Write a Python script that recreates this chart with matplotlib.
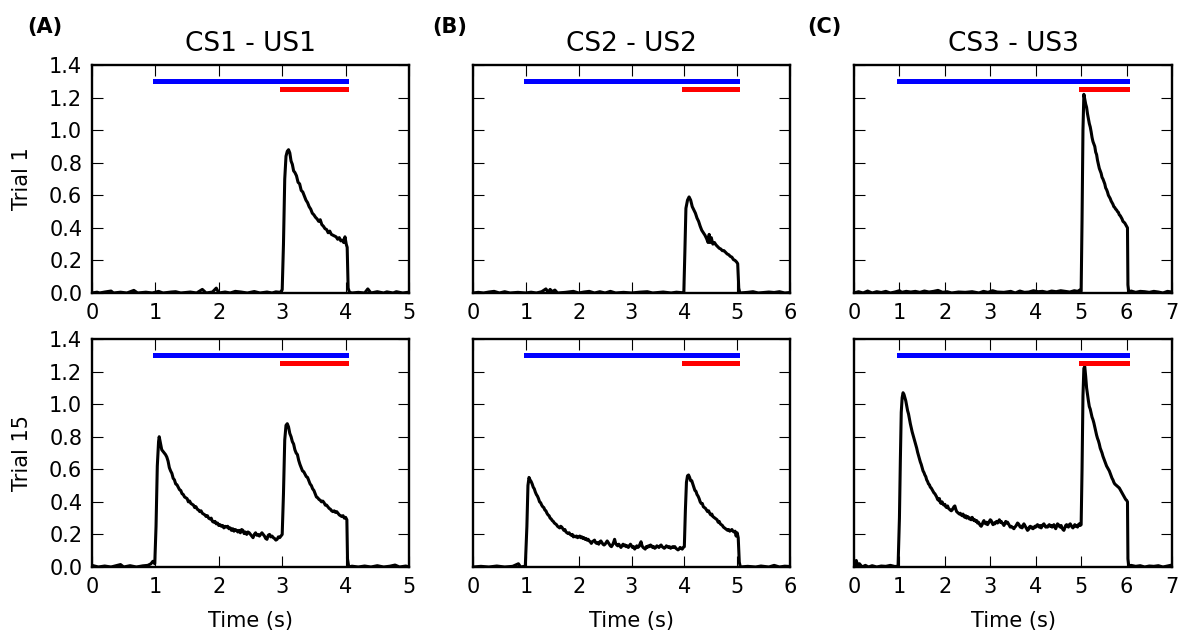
import numpy as np
import matplotlib
matplotlib.use("Agg")
import matplotlib.pyplot as plt

plt.rcParams['font.family'] = ['DejaVu Sans']

# ---------------- data ----------------
titles = ["CS1 - US1", "CS2 - US2", "CS3 - US3"]
panel_labels = ["(A)", "(B)", "(C)"]
row_labels = ["Trial 1", "Trial 15"]
x_max = [5, 6, 7]
cs_on = [1, 1, 1]
cs_off = [4, 5, 6]
us_on = [3, 4, 5]
us_off = [4, 5, 6]
cs_level = 1.30
us_level = 1.25
y_ticks = [0.0, 0.2, 0.4, 0.6, 0.8, 1.0, 1.2, 1.4]

a1 = [(0.00,0.0),(0.08,0.005),(0.12,0.0),(0.2,0.006),(0.3,0.012),(0.34,0.0),(0.45,0.005),(0.55,0.0),
      (0.66,0.016),(0.72,0.0),(0.85,0.005),(0.95,0.0),(1.05,0.01),(1.12,0.0),(1.25,0.006),(1.32,0.008),
      (1.4,0.0),(1.55,0.006),(1.65,0.0),(1.74,0.022),(1.8,0.0),(1.9,0.006),(1.96,0.03),(2.0,0.0),
      (2.1,0.006),(2.18,0.0),(2.26,0.01),(2.35,0.006),(2.45,0.0),(2.56,0.009),(2.65,0.0),(2.76,0.006),
      (2.84,0.0),(2.9,0.007),(2.97,0.004),
      (3.00,0.02),(3.02,0.30),(3.04,0.70),(3.06,0.84),(3.08,0.87),(3.10,0.88),(3.12,0.86),(3.14,0.81),
      (3.16,0.79),(3.18,0.75),(3.20,0.74),(3.225,0.72),(3.25,0.68),(3.275,0.67),(3.30,0.63),(3.325,0.62),
      (3.35,0.595),(3.375,0.57),(3.40,0.555),(3.425,0.53),(3.45,0.515),(3.475,0.49),(3.50,0.48),
      (3.525,0.465),(3.55,0.455),(3.575,0.44),(3.60,0.45),(3.625,0.42),(3.65,0.41),(3.675,0.395),
      (3.70,0.39),(3.725,0.37),(3.75,0.38),(3.775,0.36),(3.80,0.355),(3.825,0.35),(3.85,0.345),
      (3.875,0.33),(3.90,0.34),(3.925,0.32),(3.95,0.325),(3.97,0.31),(3.99,0.345),(4.01,0.30),
      (4.025,0.28),(4.04,0.03),(4.06,0.005),
      (4.1,0.0),(4.2,0.004),(4.3,0.0),(4.35,0.025),(4.4,0.0),(4.5,0.008),(4.6,0.0),(4.65,0.007),
      (4.75,0.0),(4.8,0.008),(4.9,0.0),(5.0,0.005)]

a2 = [(0.0,0.01),(0.05,0.005),(0.1,0.0),(0.2,0.006),(0.3,0.0),(0.45,0.015),(0.5,0.0),(0.6,0.008),
      (0.7,0.0),(0.8,0.007),(0.88,0.01),(0.93,0.02),(0.96,0.035),(0.99,0.02),
      (1.01,0.25),(1.03,0.62),(1.05,0.77),(1.06,0.80),(1.08,0.76),(1.10,0.72),(1.12,0.71),(1.14,0.70),
      (1.16,0.69),(1.18,0.675),(1.20,0.65),(1.22,0.61),(1.24,0.59),(1.26,0.575),(1.28,0.545),(1.30,0.535),
      (1.32,0.51),(1.34,0.505),(1.36,0.49),(1.38,0.475),(1.40,0.47),(1.42,0.45),(1.44,0.445),(1.46,0.43),
      (1.48,0.425),(1.50,0.42),(1.52,0.40),(1.54,0.405),(1.56,0.39),(1.58,0.385),(1.60,0.38),(1.62,0.365),
      (1.64,0.37),(1.66,0.355),(1.68,0.35),(1.70,0.34),(1.72,0.345),(1.74,0.33),(1.76,0.325),(1.78,0.32),
      (1.80,0.31),(1.82,0.315),(1.84,0.30),(1.86,0.295),(1.88,0.30),(1.90,0.28),(1.92,0.275),(1.94,0.28),
      (1.96,0.265),(1.98,0.27),(2.00,0.255),(2.02,0.26),(2.04,0.25),(2.06,0.255),(2.08,0.24),(2.10,0.25),
      (2.12,0.245),(2.14,0.25),(2.16,0.235),(2.18,0.24),(2.20,0.225),(2.22,0.235),(2.24,0.22),(2.26,0.23),
      (2.28,0.225),(2.30,0.215),(2.32,0.225),(2.34,0.21),(2.36,0.23),(2.38,0.225),(2.40,0.205),(2.42,0.215),
      (2.44,0.20),(2.46,0.215),(2.48,0.21),(2.50,0.20),(2.52,0.19),(2.54,0.18),(2.56,0.20),(2.58,0.21),
      (2.60,0.195),(2.62,0.20),(2.64,0.19),(2.66,0.20),(2.68,0.21),(2.70,0.20),(2.72,0.19),(2.74,0.175),
      (2.76,0.17),(2.78,0.195),(2.80,0.20),(2.82,0.185),(2.84,0.19),(2.86,0.18),(2.88,0.175),(2.90,0.165),
      (2.92,0.17),(2.94,0.185),(2.96,0.18),(2.98,0.19),(3.00,0.20),
      (3.02,0.45),(3.04,0.78),(3.06,0.87),(3.08,0.88),(3.10,0.86),(3.12,0.82),(3.14,0.80),(3.16,0.77),
      (3.18,0.755),(3.20,0.72),(3.22,0.70),(3.24,0.69),(3.26,0.655),(3.28,0.63),(3.30,0.61),(3.32,0.59),
      (3.34,0.585),(3.36,0.57),(3.38,0.555),(3.40,0.55),(3.42,0.53),(3.44,0.51),(3.46,0.50),(3.48,0.48),
      (3.50,0.47),(3.52,0.45),(3.54,0.43),(3.56,0.425),(3.58,0.415),(3.60,0.41),(3.62,0.40),(3.64,0.405),
      (3.66,0.395),(3.68,0.38),(3.70,0.38),(3.72,0.37),(3.74,0.36),(3.76,0.355),(3.78,0.345),(3.80,0.34),
      (3.82,0.345),(3.84,0.335),(3.86,0.34),(3.88,0.33),(3.90,0.32),(3.92,0.315),(3.94,0.31),(3.96,0.315),
      (3.98,0.30),(4.00,0.305),(4.02,0.29),(4.03,0.05),(4.05,0.0),
      (4.1,0.005),(4.2,0.0),(4.3,0.006),(4.4,0.0),(4.5,0.008),(4.6,0.0),(4.7,0.005),(4.78,0.012),
      (4.85,0.0),(4.95,0.006),(5.0,0.0)]

b1 = [(0.0,0.0),(0.1,0.004),(0.2,0.0),(0.3,0.006),(0.4,0.01),(0.5,0.0),(0.6,0.008),(0.7,0.0),
      (0.85,0.004),(1.0,0.0),(1.1,0.005),(1.2,0.0),(1.3,0.008),(1.38,0.025),(1.42,0.005),(1.46,0.022),
      (1.5,0.008),(1.55,0.018),(1.6,0.0),(1.75,0.004),(1.9,0.01),(2.0,0.0),(2.1,0.006),(2.2,0.01),
      (2.3,0.0),(2.4,0.008),(2.5,0.0),(2.6,0.01),(2.7,0.0),(2.85,0.004),(3.0,0.0),(3.15,0.005),
      (3.3,0.008),(3.4,0.0),(3.6,0.006),(3.75,0.0),(3.85,0.005),(3.95,0.002),(3.99,0.0),
      (4.01,0.25),(4.03,0.52),(4.06,0.57),(4.09,0.59),(4.12,0.57),(4.15,0.53),(4.18,0.51),(4.21,0.49),
      (4.24,0.46),(4.27,0.44),(4.30,0.41),(4.33,0.385),(4.36,0.37),(4.39,0.355),(4.42,0.335),(4.45,0.31),
      (4.47,0.36),(4.49,0.31),(4.51,0.34),(4.54,0.30),(4.57,0.31),(4.60,0.295),(4.63,0.285),(4.66,0.275),
      (4.69,0.27),(4.72,0.26),(4.75,0.26),(4.78,0.25),(4.81,0.24),(4.84,0.235),(4.87,0.225),(4.90,0.22),
      (4.93,0.205),(4.96,0.20),(4.99,0.19),(5.01,0.18),(5.03,0.03),(5.05,0.0),
      (5.2,0.004),(5.3,0.008),(5.4,0.0),(5.6,0.006),(5.7,0.003),(5.8,0.008),(5.9,0.0),(6.0,0.003)]

b2 = [(0.0,0.0),(0.15,0.004),(0.3,0.0),(0.45,0.006),(0.6,0.0),(0.75,0.004),(0.86,0.02),(0.9,0.0),
      (0.99,0.005),
      (1.02,0.25),(1.04,0.50),(1.06,0.55),(1.08,0.535),(1.10,0.525),(1.12,0.51),(1.14,0.49),(1.16,0.48),
      (1.18,0.46),(1.20,0.445),(1.22,0.435),(1.24,0.42),(1.26,0.40),(1.28,0.395),(1.30,0.38),(1.32,0.37),
      (1.34,0.365),(1.36,0.35),(1.38,0.345),(1.40,0.33),(1.42,0.32),(1.44,0.315),(1.46,0.30),(1.48,0.295),
      (1.50,0.285),(1.52,0.28),(1.54,0.27),(1.56,0.265),(1.58,0.26),(1.60,0.25),(1.62,0.245),(1.64,0.24),
      (1.66,0.25),(1.68,0.245),(1.70,0.235),(1.72,0.225),(1.74,0.23),(1.76,0.215),(1.78,0.21),(1.80,0.205),
      (1.82,0.21),(1.84,0.20),(1.86,0.195),(1.88,0.20),(1.90,0.185),(1.92,0.19),(1.94,0.185),(1.96,0.19),
      (1.98,0.18),(2.00,0.185),(2.02,0.19),(2.04,0.18),(2.06,0.185),(2.08,0.175),(2.10,0.18),(2.12,0.17),
      (2.14,0.175),(2.16,0.165),(2.18,0.17),(2.20,0.16),(2.22,0.155),(2.24,0.145),(2.26,0.155),(2.28,0.16),
      (2.30,0.165),(2.32,0.15),(2.34,0.145),(2.36,0.15),(2.38,0.14),(2.40,0.155),(2.42,0.16),(2.44,0.15),
      (2.46,0.14),(2.48,0.135),(2.50,0.14),(2.52,0.15),(2.54,0.16),(2.56,0.15),(2.58,0.14),(2.60,0.13),
      (2.62,0.125),(2.64,0.135),(2.66,0.15),(2.68,0.17),(2.70,0.145),(2.72,0.135),(2.74,0.13),(2.76,0.14),
      (2.78,0.13),(2.80,0.12),(2.82,0.13),(2.84,0.14),(2.86,0.13),(2.88,0.135),(2.90,0.125),(2.92,0.13),
      (2.94,0.12),(2.96,0.13),(2.98,0.14),(3.00,0.13),(3.02,0.12),(3.04,0.125),(3.06,0.11),(3.08,0.12),
      (3.10,0.13),(3.12,0.12),(3.14,0.125),(3.16,0.14),(3.18,0.155),(3.20,0.13),(3.22,0.12),(3.24,0.115),
      (3.26,0.11),(3.28,0.125),(3.30,0.12),(3.32,0.13),(3.34,0.125),(3.36,0.135),(3.38,0.13),(3.40,0.12),
      (3.42,0.125),(3.44,0.115),(3.46,0.12),(3.48,0.13),(3.50,0.125),(3.52,0.12),(3.54,0.13),(3.56,0.135),
      (3.58,0.125),(3.60,0.12),(3.62,0.115),(3.64,0.12),(3.66,0.13),(3.68,0.125),(3.70,0.12),(3.72,0.125),
      (3.74,0.115),(3.76,0.12),(3.78,0.125),(3.80,0.12),(3.82,0.125),(3.84,0.115),(3.86,0.11),(3.88,0.105),
      (3.90,0.11),(3.92,0.12),(3.94,0.115),(3.96,0.11),(3.98,0.12),(4.00,0.125),
      (4.02,0.35),(4.04,0.52),(4.06,0.56),(4.08,0.565),(4.10,0.55),(4.12,0.53),(4.14,0.53),(4.16,0.51),
      (4.18,0.49),(4.20,0.47),(4.22,0.465),(4.24,0.445),(4.26,0.435),(4.28,0.42),(4.30,0.40),(4.32,0.39),
      (4.34,0.39),(4.36,0.37),(4.38,0.365),(4.40,0.36),(4.42,0.35),(4.44,0.34),(4.46,0.345),(4.48,0.33),
      (4.50,0.32),(4.52,0.325),(4.54,0.31),(4.56,0.305),(4.58,0.30),(4.60,0.295),(4.62,0.29),(4.64,0.275),
      (4.66,0.28),(4.68,0.265),(4.70,0.26),(4.72,0.255),(4.74,0.245),(4.76,0.24),(4.78,0.235),(4.80,0.23),
      (4.82,0.225),(4.84,0.23),(4.86,0.22),(4.88,0.225),(4.90,0.23),(4.92,0.22),(4.94,0.215),(4.96,0.22),
      (4.98,0.19),(5.00,0.21),(5.02,0.18),(5.04,0.03),(5.06,0.0),
      (5.2,0.004),(5.35,0.0),(5.45,0.006),(5.6,0.0),(5.7,0.01),(5.8,0.0),(5.9,0.005),(6.0,0.003)]

c1 = [(0.0,0.0),(0.1,0.008),(0.2,0.0),(0.3,0.012),(0.4,0.0),(0.5,0.008),(0.6,0.003),(0.7,0.01),
      (0.8,0.0),(0.9,0.006),(1.0,0.014),(1.05,0.004),(1.15,0.01),(1.25,0.006),(1.35,0.01),(1.45,0.004),
      (1.55,0.012),(1.65,0.006),(1.75,0.01),(1.85,0.016),(1.95,0.004),(2.05,0.008),(2.15,0.0),(2.3,0.006),
      (2.45,0.004),(2.6,0.008),(2.75,0.0),(2.85,0.01),(2.95,0.004),(3.05,0.014),(3.15,0.006),(3.3,0.004),
      (3.45,0.01),(3.55,0.0),(3.65,0.012),(3.75,0.004),(3.85,0.006),(3.95,0.014),(4.05,0.008),(4.15,0.01),
      (4.25,0.004),(4.35,0.012),(4.45,0.008),(4.55,0.014),(4.65,0.01),(4.75,0.006),(4.85,0.014),
      (4.92,0.01),(4.97,0.018),(5.0,0.01),
      (5.02,0.45),(5.04,1.0),(5.06,1.22),(5.08,1.19),(5.10,1.16),(5.12,1.14),(5.14,1.10),(5.16,1.07),
      (5.18,1.04),(5.20,1.02),(5.22,0.99),(5.24,0.955),(5.26,0.93),(5.28,0.915),(5.30,0.90),(5.32,0.865),
      (5.34,0.85),(5.36,0.815),(5.38,0.79),(5.40,0.765),(5.42,0.75),(5.44,0.735),(5.46,0.71),(5.48,0.70),
      (5.50,0.685),(5.52,0.67),(5.54,0.645),(5.56,0.635),(5.58,0.62),(5.60,0.60),(5.62,0.59),(5.64,0.58),
      (5.66,0.565),(5.68,0.555),(5.70,0.545),(5.72,0.53),(5.74,0.525),(5.76,0.515),(5.78,0.51),(5.80,0.50),
      (5.82,0.495),(5.84,0.48),(5.86,0.475),(5.88,0.465),(5.90,0.455),(5.92,0.44),(5.94,0.435),(5.96,0.43),
      (5.98,0.42),(6.00,0.41),(6.02,0.40),(6.03,0.05),(6.05,0.0),
      (6.1,0.012),(6.2,0.004),(6.3,0.01),(6.4,0.008),(6.5,0.004),(6.6,0.01),(6.7,0.006),(6.8,0.0),
      (6.9,0.01),(7.0,0.006)]

c2 = [(0.0,0.0),(0.05,0.04),(0.08,0.01),(0.12,0.02),(0.18,0.0),(0.25,0.01),(0.32,0.0),(0.4,0.008),
      (0.5,0.0),(0.6,0.006),(0.7,0.004),(0.8,0.01),(0.9,0.003),(0.97,0.005),
      (1.00,0.3),(1.02,0.65),(1.04,0.95),(1.06,1.04),(1.08,1.07),(1.10,1.06),(1.12,1.04),(1.14,1.02),
      (1.16,0.99),(1.18,0.96),(1.20,0.94),(1.22,0.91),(1.24,0.88),(1.26,0.855),(1.28,0.83),(1.30,0.81),
      (1.32,0.79),(1.34,0.77),(1.36,0.75),(1.38,0.73),(1.40,0.705),(1.42,0.685),(1.44,0.665),(1.46,0.645),
      (1.48,0.63),(1.50,0.61),(1.52,0.59),(1.54,0.58),(1.56,0.565),(1.58,0.555),(1.60,0.535),(1.62,0.525),
      (1.64,0.51),(1.66,0.505),(1.68,0.49),(1.70,0.485),(1.72,0.475),(1.74,0.465),(1.76,0.455),(1.78,0.45),
      (1.80,0.44),(1.82,0.43),(1.84,0.415),(1.86,0.41),(1.88,0.42),(1.90,0.395),(1.92,0.39),(1.94,0.40),
      (1.96,0.385),(1.98,0.38),(2.00,0.385),(2.02,0.37),(2.04,0.365),(2.06,0.375),(2.08,0.36),(2.10,0.355),
      (2.12,0.35),(2.14,0.345),(2.16,0.35),(2.18,0.36),(2.20,0.37),(2.22,0.375),(2.24,0.355),(2.26,0.34),
      (2.28,0.335),(2.30,0.33),(2.32,0.325),(2.34,0.33),(2.36,0.32),(2.38,0.315),(2.40,0.325),(2.42,0.31),
      (2.44,0.305),(2.46,0.315),(2.48,0.30),(2.50,0.31),(2.52,0.305),(2.54,0.295),(2.56,0.30),(2.58,0.29),
      (2.60,0.305),(2.62,0.295),(2.64,0.285),(2.66,0.29),(2.68,0.28),(2.70,0.285),(2.72,0.27),(2.74,0.275),
      (2.76,0.265),(2.78,0.255),(2.80,0.25),(2.82,0.26),(2.84,0.275),(2.86,0.285),(2.88,0.27),(2.90,0.265),
      (2.92,0.275),(2.94,0.26),(2.96,0.27),(2.98,0.28),(3.00,0.29),(3.02,0.285),(3.04,0.27),(3.06,0.26),
      (3.08,0.27),(3.10,0.265),(3.12,0.275),(3.14,0.28),(3.16,0.27),(3.18,0.28),(3.20,0.29),(3.22,0.275),
      (3.24,0.28),(3.26,0.27),(3.28,0.265),(3.30,0.255),(3.32,0.265),(3.34,0.28),(3.36,0.27),(3.38,0.275),
      (3.40,0.265),(3.42,0.255),(3.44,0.245),(3.46,0.25),(3.48,0.245),(3.50,0.24),(3.52,0.235),(3.54,0.245),
      (3.56,0.25),(3.58,0.26),(3.60,0.27),(3.62,0.265),(3.64,0.255),(3.66,0.245),(3.68,0.25),(3.70,0.24),
      (3.72,0.255),(3.74,0.265),(3.76,0.255),(3.78,0.245),(3.80,0.235),(3.82,0.225),(3.84,0.23),(3.86,0.245),
      (3.88,0.25),(3.90,0.24),(3.92,0.245),(3.94,0.235),(3.96,0.24),(3.98,0.25),(4.00,0.245),(4.02,0.255),
      (4.04,0.26),(4.06,0.25),(4.08,0.245),(4.10,0.255),(4.12,0.24),(4.14,0.25),(4.16,0.26),(4.18,0.265),
      (4.20,0.255),(4.22,0.245),(4.24,0.25),(4.26,0.245),(4.28,0.255),(4.30,0.26),(4.32,0.25),(4.34,0.255),
      (4.36,0.245),(4.38,0.25),(4.40,0.26),(4.42,0.245),(4.44,0.235),(4.46,0.25),(4.48,0.265),(4.50,0.26),
      (4.52,0.25),(4.54,0.245),(4.56,0.255),(4.58,0.24),(4.60,0.23),(4.62,0.225),(4.64,0.24),(4.66,0.255),
      (4.68,0.26),(4.70,0.25),(4.72,0.245),(4.74,0.26),(4.76,0.265),(4.78,0.255),(4.80,0.245),(4.82,0.24),
      (4.84,0.25),(4.86,0.26),(4.88,0.25),(4.90,0.255),(4.92,0.245),(4.94,0.26),(4.96,0.265),(4.98,0.255),
      (5.00,0.26),
      (5.02,0.60),(5.04,1.05),(5.06,1.22),(5.08,1.23),(5.10,1.17),(5.12,1.10),(5.14,1.06),(5.16,1.02),
      (5.18,0.985),(5.20,0.97),(5.22,0.945),(5.24,0.92),(5.26,0.905),(5.28,0.885),(5.30,0.86),(5.32,0.835),
      (5.34,0.81),(5.36,0.79),(5.38,0.775),(5.40,0.755),(5.42,0.73),(5.44,0.715),(5.46,0.70),(5.48,0.68),
      (5.50,0.665),(5.52,0.65),(5.54,0.635),(5.56,0.62),(5.58,0.61),(5.60,0.60),(5.62,0.59),(5.64,0.575),
      (5.66,0.56),(5.68,0.545),(5.70,0.535),(5.72,0.52),(5.74,0.51),(5.76,0.505),(5.78,0.50),(5.80,0.495),
      (5.82,0.49),(5.84,0.485),(5.86,0.475),(5.88,0.465),(5.90,0.455),(5.92,0.445),(5.94,0.435),(5.96,0.425),
      (5.98,0.415),(6.00,0.41),(6.02,0.40),(6.03,0.05),(6.05,0.0),
      (6.1,0.01),(6.2,0.004),(6.3,0.008),(6.4,0.0),(6.5,0.006),(6.6,0.004),(6.7,0.008),(6.8,0.0),
      (6.9,0.006),(7.0,0.012)]

traces = [[a1, a2], [b1, b2], [c1, c2]]

# ---------------- figure ----------------
W, H = 1180, 634
fig = plt.figure(figsize=(W / 100, H / 100), dpi=100, facecolor='white')

col_left = [92, 473, 854]
col_width = [317, 317, 318]
row_top = [65, 339]
row_height = 228

for c in range(3):
    for r in range(2):
        left = col_left[c] / W
        bottom = 1 - (row_top[r] + row_height) / H
        ax = fig.add_axes([left, bottom, col_width[c] / W, row_height / H])
        t, v = np.array(traces[c][r]).T
        ax.plot(t, v, color='black', lw=2.2, solid_joinstyle='round')
        ax.plot([cs_on[c], cs_off[c]], [cs_level, cs_level], color='#0000ff', lw=3.6,
                solid_capstyle='projecting')
        ax.plot([us_on[c], us_off[c]], [us_level, us_level], color='#ff0000', lw=3.6,
                solid_capstyle='projecting')
        ax.set_xlim(0, x_max[c])
        ax.set_ylim(0, 1.4)
        ax.set_xticks(range(0, x_max[c] + 1))
        ax.set_yticks(y_ticks)
        ax.tick_params(direction='in', length=8, width=0.8, top=True, right=True,
                       labelsize=15, pad=7)
        for s in ax.spines.values():
            s.set_linewidth(1.7)
        if c == 0:
            ax.set_yticklabels([f"{y:.1f}" for y in y_ticks])
            ax.set_ylabel(row_labels[r], fontsize=15, labelpad=12)
        else:
            ax.set_yticklabels([])
        if r == 0:
            ax.set_title(titles[c], fontsize=19, pad=10)
        else:
            ax.set_xlabel("Time (s)", fontsize=15, labelpad=10)

panel_x = [27, 432, 807]
for c in range(3):
    fig.text(panel_x[c] / W, 1 - 27 / H, panel_labels[c], fontsize=15, fontweight='bold',
             ha='left', va='center')

fig.savefig("out.png", dpi=100, facecolor='white')
